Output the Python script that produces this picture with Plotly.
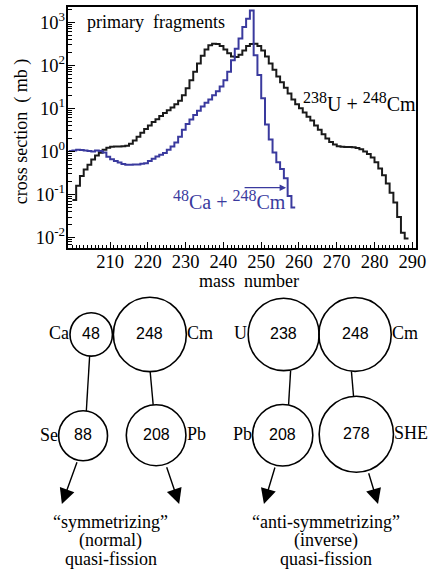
import plotly.graph_objects as go

# ---------------- data ----------------
# 238U + 248Cm primary fragment yield (mb), bins of 1 mass unit, left edges
u_mass = [200, 201, 202, 203, 204, 205, 206, 207, 208, 209,
          210, 211, 212, 213, 214, 215, 216, 217, 218, 219,
          220, 221, 222, 223, 224, 225, 226, 227, 228, 229,
          230, 231, 232, 233, 234, 235, 236, 237, 238, 239,
          240, 241, 242, 243, 244, 245, 246, 247, 248, 249,
          250, 251, 252, 253, 254, 255, 256, 257, 258, 259,
          260, 261, 262, 263, 264, 265, 266, 267, 268, 269,
          270, 271, 272, 273, 274, 275, 276, 277, 278, 279,
          280, 281, 282, 283, 284, 285, 286, 287, 288]
u_sigma = [0.075, 0.16, 0.27, 0.38, 0.49, 0.65, 0.8, 0.93, 1.1, 1.22,
           1.28, 1.3, 1.3, 1.32, 1.35, 1.5, 1.8, 2.2, 2.7, 3.3,
           4.0, 4.8, 5.6, 6.6, 7.8, 9.0, 10.5, 12.5, 15, 20,
           29, 45, 70, 110, 165, 230, 290, 315, 310, 280,
           230, 190, 160, 155, 175, 220, 280, 310, 315, 280,
           220, 160, 110, 78, 55, 40, 30, 22, 16, 12.5,
           10, 8, 6.4, 5.2, 4.0, 3.2, 2.5, 2.0, 1.65, 1.45,
           1.32, 1.28, 1.27, 1.27, 1.25, 1.2, 1.12, 1.0, 0.87, 0.72,
           0.56, 0.4, 0.28, 0.18, 0.11, 0.065, 0.03, 0.013, 0.0095]

# 48Ca + 248Cm primary fragment yield (mb)
ca_mass = [199, 200, 201, 202, 203, 204, 205, 206, 207, 208,
           209, 210, 211, 212, 213, 214, 215, 216, 217, 218,
           219, 220, 221, 222, 223, 224, 225, 226, 227, 228,
           229, 230, 231, 232, 233, 234, 235, 236, 237, 238,
           239, 240, 241, 242, 243, 244, 245, 246, 247, 248,
           249, 250, 251, 252, 253, 254, 255, 256, 257, 258]
ca_sigma = [1.02, 1.05, 1.1, 1.08, 1.05, 1.02, 1.0, 1.05, 1.02, 0.95,
            0.75, 0.66, 0.6, 0.55, 0.51, 0.49, 0.49, 0.5, 0.5, 0.52,
            0.53, 0.6, 0.68, 0.76, 0.84, 0.92, 1.1, 1.3, 1.6, 2.2,
            3.2, 4.3, 5.5, 7.0, 8.8, 11, 13.5, 16, 20, 25,
            32, 45, 70, 130, 240, 415, 770, 1200, 1860, 170,
            59, 17, 4.2, 1.9, 0.95, 0.56, 0.39, 0.24, 0.093, 0.05]

x_ticks = [210, 220, 230, 240, 250, 260, 270, 280, 290]
y_ticks = [0.01, 0.1, 1, 10, 100, 1000]
y_ticktext = ["10<sup>-2</sup>", "10<sup>-1</sup>", "10<sup>0</sup>",
              "10<sup>1</sup>", "10<sup>2</sup>", "10<sup>3</sup>"]

# schematic: (element, mass number)
left_nodes = [("Ca", 48), ("Cm", 248), ("Se", 88), ("Pb", 208)]
right_nodes = [("U", 238), ("Cm", 248), ("Pb", 208), ("SHE", 278)]
left_caption = ["\u201csymmetrizing\u201d", "(normal)", "quasi-fission"]
right_caption = ["\u201canti-symmetrizing\u201d", "(inverse)", "quasi-fission"]

# ---------------- styles ----------------
W, H = 445, 575
SERIF = "Liberation Serif, Times New Roman, serif"
SANS = "Liberation Sans, Arial, sans-serif"
BLUE = "#3a3a9e"
BLACK = "#1a1a1a"

fig = go.Figure()


def steps(xs, ys):
    return xs + [xs[-1] + 1], ys + [ys[-1]]


bx, by = steps(u_mass, u_sigma)
fig.add_trace(go.Scatter(x=bx, y=by, mode="lines", line=dict(color=BLACK, width=2, shape="hv"),
                         hoverinfo="skip"))
cx_, cy_ = steps(ca_mass, ca_sigma)
fig.add_trace(go.Scatter(x=cx_, y=cy_, mode="lines", line=dict(color=BLUE, width=2, shape="hv"),
                         hoverinfo="skip"))
# empty trace to anchor the pixel overlay axes
fig.add_trace(go.Scatter(x=[None], y=[None], xaxis="x2", yaxis="y2", mode="lines", hoverinfo="skip"))

# plot area in pixels
L, R, T, B = 70, 426, 7, 248

minor_y = [m * 10 ** k for k in range(-3, 4) for m in range(2, 10)]

fig.update_layout(
    width=W, height=H,
    margin=dict(l=0, r=0, t=0, b=0),
    paper_bgcolor="white", plot_bgcolor="rgba(0,0,0,0)",
    showlegend=False,
    font=dict(family=SERIF, size=18, color="black"),
    xaxis=dict(domain=[L / W, R / W], range=[198.95, 291.1], anchor="y",
               tickvals=x_ticks, ticks="inside", ticklen=6, tickwidth=1.2, tickcolor="black",
               minor=dict(dtick=1, tick0=200, ticks="inside", ticklen=3, tickwidth=1, tickcolor="black"),
               showline=True, linecolor="black", linewidth=1.5, mirror=True,
               showgrid=False, zeroline=False, ticklabelstandoff=-4,
               tickfont=dict(family=SERIF, size=18.5, color="black")),
    yaxis=dict(domain=[1 - B / H, 1 - T / H], type="log", range=[-2.23, 3.35], anchor="x",
               tickvals=y_ticks, ticktext=y_ticktext,
               ticks="inside", ticklen=7, tickwidth=1.2, tickcolor="black",
               minor=dict(tickvals=minor_y, ticks="inside", ticklen=3.5, tickwidth=1, tickcolor="black"),
               showline=True, linecolor="black", linewidth=1.5, mirror=True,
               showgrid=False, zeroline=False, ticklabelstandoff=-2,
               tickfont=dict(family=SERIF, size=18.5, color="black")),
    xaxis2=dict(domain=[0, 1], range=[0, W], anchor="y2", visible=False, fixedrange=True),
    yaxis2=dict(domain=[0, 1], range=[H, 0], anchor="x2", visible=False, fixedrange=True),
)

ann = []


def txt(x, y, s, size=18, fam=SERIF, color="black", xa="center", ya="middle", angle=0):
    ann.append(dict(x=x, y=y, xref="x2", yref="y2", text=s, showarrow=False,
                    font=dict(family=fam, size=size, color=color),
                    xanchor=xa, yanchor=ya, textangle=angle))


def big_sup(s):
    return "<sup><span style='font-size:16px'>" + s + "</span></sup>"


# axis titles and in-plot labels
txt(22, 132, "cross section\u00a0\u00a0( mb )", angle=-90)
txt(255, 281, "mass\u00a0\u00a0number")
txt(87, 22, "primary\u00a0\u00a0fragments", xa="left")
txt(368, 102, big_sup("238") + "U + " + big_sup("248") + "Cm", size=20)
txt(235, 200, big_sup("48") + "Ca + " + big_sup("248") + "Cm", size=20, color=BLUE)

# arrow to the blue tail (data coordinates)
ann.append(dict(x=256.6, y=-0.84, xref="x", yref="y", ax=245.2, ay=-0.84, axref="x", ayref="y",
                text="", showarrow=True, arrowhead=2, arrowsize=1, arrowwidth=1.3, arrowcolor=BLUE))

# ---------------- schematic ----------------
# geometry (pixels): centre x, centre y, radius, label side
geo_left = [(93.3, 335, 21.7, "l"), (153.3, 335, 37.3, "r"), (85, 436.5, 25, "l"), (159.7, 436, 30.5, "r")]
geo_right = [(290.2, 335, 36.3, "l"), (363.2, 335, 37, "r"), (289.2, 436, 30.8, "l"), (364.5, 435, 38, "r")]

shapes = []
for nodes, geo in ((left_nodes, geo_left), (right_nodes, geo_right)):
    for (el, a), (cx, cy, r, side) in zip(nodes, geo):
        shapes.append(dict(type="circle", xref="x2", yref="y2", x0=cx - r, x1=cx + r, y0=cy - r, y1=cy + r,
                           line=dict(color="black", width=1.6)))
        txt(cx, cy - 1, str(a), size=16, fam=SANS)
        if side == "l":
            txt(cx - r + 1, cy - 1, el, xa="right")
        else:
            txt(cx + r - 1, cy - 1, el, xa="left")

links = [((91.7, 356.7), (88.3, 411.7)), ((153.6, 372.2), (156.7, 405.6)),
         ((297.3, 371.3), (295.2, 405.5)), ((359.5, 372), (361.7, 397.2))]
for (x0, y0), (x1, y1) in links:
    shapes.append(dict(type="line", xref="x2", yref="y2", x0=x0, y0=y0, x1=x1, y1=y1,
                       line=dict(color="black", width=1.4)))

arrows = [((79.3, 461.5), (63.3, 505)), ((170, 466.5), (183.3, 505)),
          ((281.7, 466.8), (270, 505)), ((376.7, 472.5), (386.7, 505))]
for (tx, ty), (hx, hy) in arrows:
    ann.append(dict(x=hx, y=hy, xref="x2", yref="y2", ax=tx, ay=ty, axref="x2", ayref="y2",
                    text="", showarrow=True, arrowhead=2, arrowsize=2.2, arrowwidth=1.4, arrowcolor="black"))

for cxp, lines in ((113.3, left_caption), (333.3, right_caption)):
    for i, s in enumerate(lines):
        txt(cxp, 523.3 + 18.3 * i, s)

fig.update_layout(annotations=ann, shapes=shapes)
fig.write_html("out.html")
